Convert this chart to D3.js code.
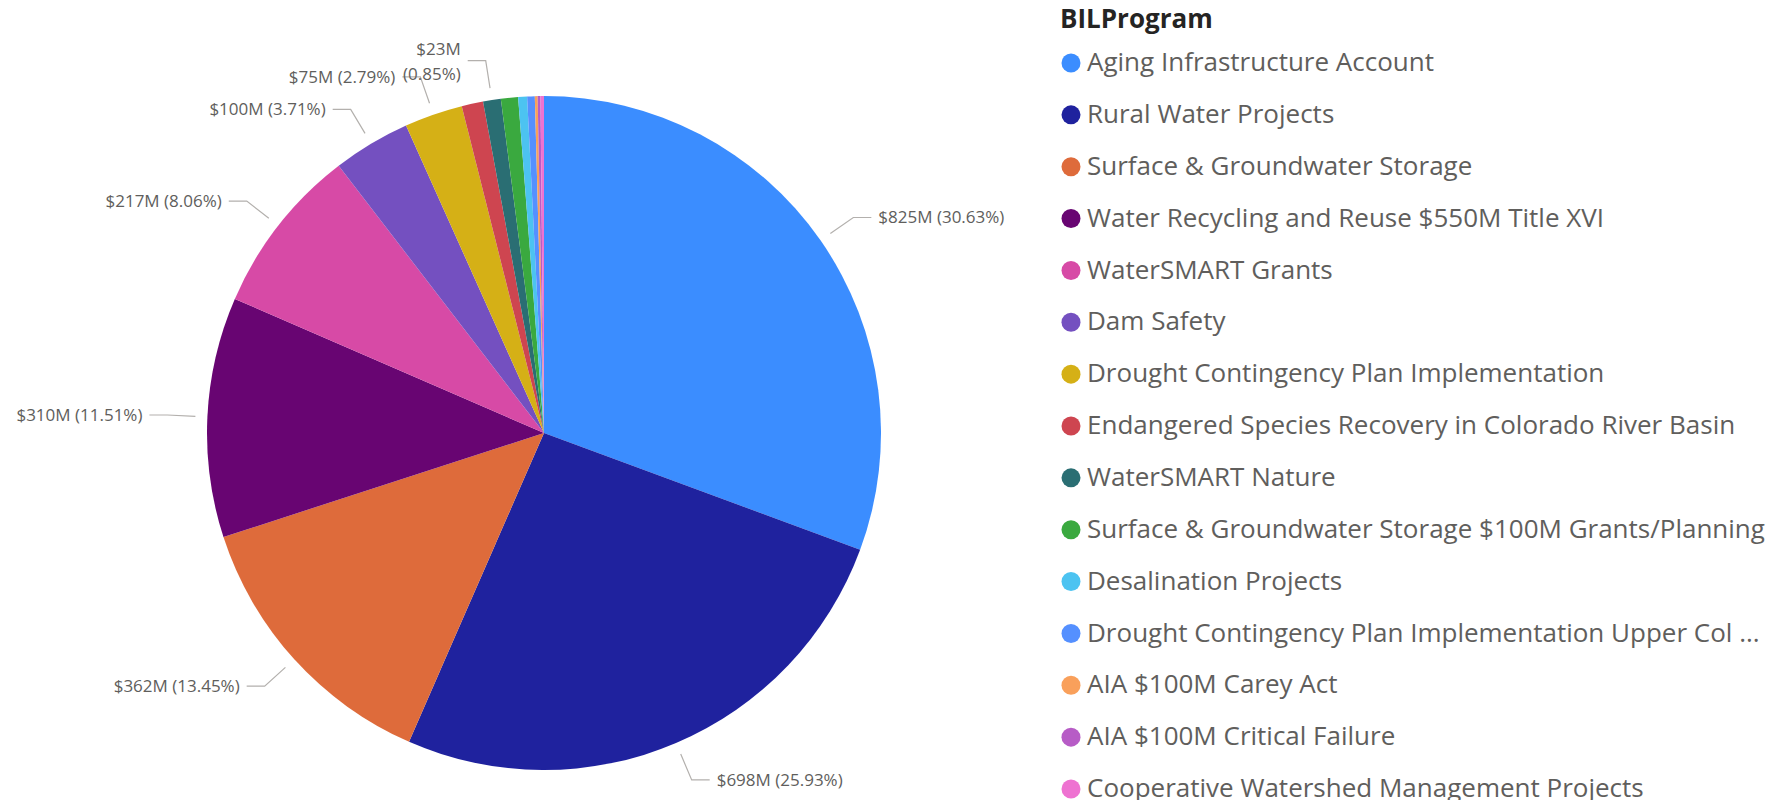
<!DOCTYPE html>
<html>
<head>
<meta charset="utf-8">
<script src="https://cdn.jsdelivr.net/npm/d3@7"></script>
<style>
    body { margin: 0; background: #fff; }
    text { font-family: "Segoe UI", "Open Sans", sans-serif; }
</style>
</head>
<body>
<div id="chart"></div>
<script>
// BIL program funding, $M
var programs = [
    "Aging Infrastructure Account",
    "Rural Water Projects",
    "Surface & Groundwater Storage",
    "Water Recycling and Reuse $550M Title XVI",
    "WaterSMART Grants",
    "Dam Safety",
    "Drought Contingency Plan Implementation",
    "Endangered Species Recovery in Colorado River Basin",
    "WaterSMART Nature",
    "Surface & Groundwater Storage $100M Grants/Planning",
    "Desalination Projects",
    "Drought Contingency Plan Implementation Upper Col ...",
    "AIA $100M Carey Act",
    "AIA $100M Critical Failure",
    "Cooperative Watershed Management Projects"
];
var amounts = [825, 698.3, 362.2, 310, 217.1, 100, 75.1, 27.7, 22.9, 22.1, 11.5, 9.8, 3.6, 3.6, 4.5];
var colors = ["#3B8DFF", "#1F229E", "#DE6B3B", "#680572", "#D74AA6", "#7450C0", "#D5B016",
    "#CE4550", "#2A6E73", "#3AA93F", "#4CC3F1", "#5590FF", "#F9A05B", "#B75CC6", "#EE72D1"];
// which slices carry a data label (the others are too thin)
var labelled = [0, 1, 2, 3, 4, 5, 6, 8];
var wrapped = [8];

var width = 1767,
    height = 800,
    cx = 544,
    cy = 433,
    radius = 337;

var svg = d3.select("#chart").append("svg")
    .attr("width", width)
    .attr("height", height);

var total = d3.sum(amounts);

var pie = d3.pie()
    .sort(null)
    .value(function (d) { return d; });

var arc = d3.arc()
    .innerRadius(0)
    .outerRadius(radius);

var arcs = pie(amounts);

var g = svg.append("g")
    .attr("transform", "translate(" + cx + "," + cy + ")");

g.selectAll("path")
    .data(arcs)
    .enter().append("path")
    .attr("d", arc)
    .attr("fill", function (d, i) { return colors[i]; });

function polar(a, r) {
    return [r * Math.sin(a), -r * Math.cos(a)];
}

// data labels with leader lines
var labelG = g.append("g");
labelled.forEach(function (i) {
    var d = arcs[i];
    var mid = (d.startAngle + d.endAngle) / 2;
    var p1 = polar(mid, radius + 12);
    var p2 = polar(mid, radius + 40);
    var right = Math.sin(mid) >= 0;
    var p3 = [p2[0] + (right ? 18 : -18), p2[1]];
    labelG.append("polyline")
        .attr("points", [p1, p2, p3].map(function (p) { return p.join(","); }).join(" "))
        .attr("fill", "none")
        .attr("stroke", "#b3b0ad")
        .attr("stroke-width", 1.2);
    var val = "$" + Math.round(amounts[i]) + "M";
    var pct = "(" + d3.format(".2f")(amounts[i] / total * 100) + "%)";
    var t = labelG.append("text")
        .attr("x", p3[0] + (right ? 7 : -7))
        .attr("y", p3[1])
        .attr("text-anchor", right ? "start" : "end")
        .attr("fill", "#605e5c")
        .style("font-size", "17px");
    if (wrapped.indexOf(i) >= 0) {
        t.append("tspan").attr("x", p3[0] - 7).attr("dy", "-0.35em").text(val);
        t.append("tspan").attr("x", p3[0] - 7).attr("dy", "1.5em").text(pct);
    } else {
        t.attr("dy", "0.35em").text(val + " " + pct);
    }
});

// legend
var legend = svg.append("g")
    .attr("transform", "translate(1060,0)");

legend.append("text")
    .attr("x", 0)
    .attr("y", 19)
    .attr("dy", "0.35em")
    .attr("fill", "#252423")
    .style("font-size", "26px")
    .style("font-weight", "bold")
    .text("BILProgram");

var rowY = d3.scalePoint()
    .domain(programs)
    .range([62, 788]);

var items = legend.selectAll(".item")
    .data(programs)
    .enter().append("g")
    .attr("class", "item")
    .attr("transform", function (d) { return "translate(0," + rowY(d) + ")"; });

items.append("circle")
    .attr("cx", 11)
    .attr("cy", 1)
    .attr("r", 9.5)
    .attr("fill", function (d, i) { return colors[i]; });

items.append("text")
    .attr("x", 27)
    .attr("dy", "0.35em")
    .attr("fill", "#605e5c")
    .style("font-size", "26px")
    .text(function (d) { return d; });
</script>
</body>
</html>
